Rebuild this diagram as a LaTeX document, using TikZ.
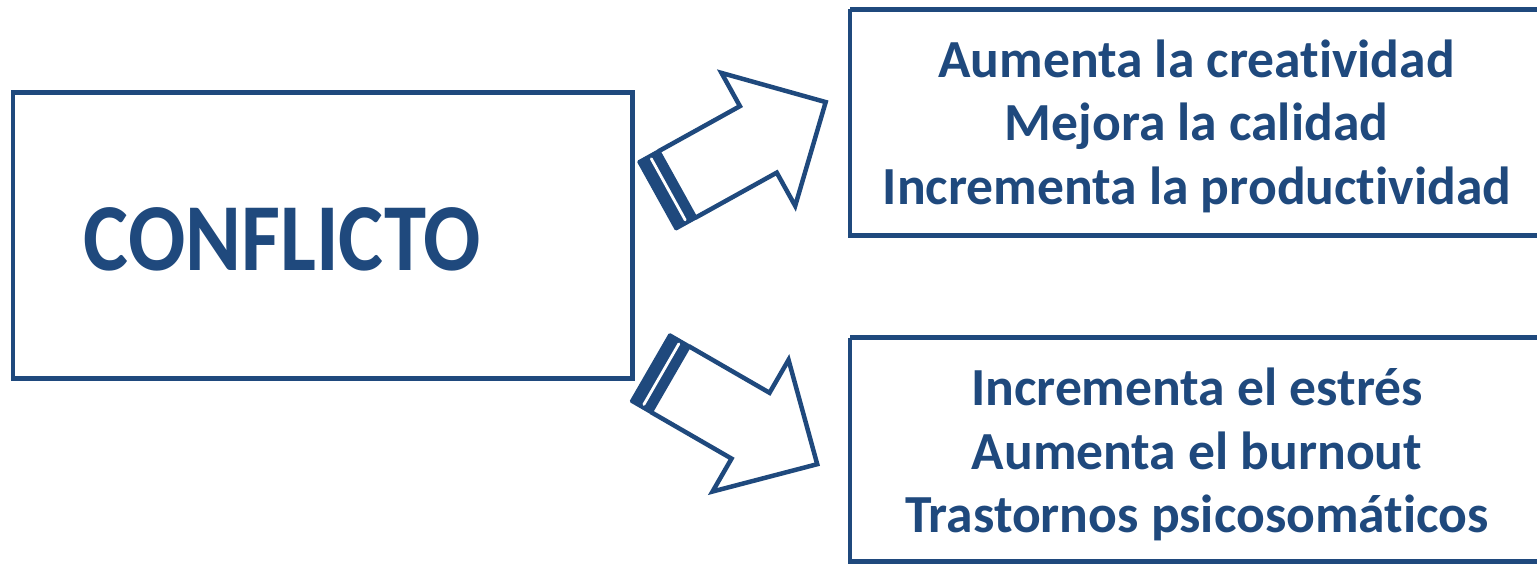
\documentclass[tikz,border=0pt]{standalone}
\usepackage{fontspec}
\setmainfont{Carlito}[Ligatures=NoCommon]
\definecolor{dblue}{HTML}{1F497D}
\tikzset{
  boxline/.style={draw=dblue, line width=4.5pt},
  arrline/.style={draw=dblue, line width=4.5pt, line join=miter, fill=white},
  bigtext/.style={text=dblue, font=\bfseries\fontsize{96}{96}\selectfont, inner sep=0pt, anchor=base},
  linetext/.style={text=dblue, font=\bfseries\fontsize{53.6}{60}\selectfont, inner sep=0pt, anchor=base},
}
\newcommand{\blockarrow}{%
  \draw[arrline] (0,-38) -- (93,-38) -- (93,-76) -- (170,0) -- (93,76) -- (93,38) -- (0,38);
  \fill[dblue, rounded corners=1.5pt] (-24,-40) rectangle (2,40);
  \draw[white, line width=2.8pt, line cap=round] (-10,-35) -- (-10,35);
}
\begin{document}
\begin{tikzpicture}[x=1pt,y=-1pt]
\useasboundingbox (0,0) rectangle (1537,564);
% boxes
\draw[boxline] (13,92.5) rectangle (632.5,378.5);
\draw[boxline] (850,9.5) -- (1545,9.5) (850,9.5) -- (850,235.5) -- (1545,235.5);
\draw[boxline] (850,337.5) -- (1545,337.5) (850,337.5) -- (850,561.5) -- (1545,561.5);
% text
\node[bigtext] (conf) at (282.5,270) {\scalebox{0.884}[1]{CONFLICTO}};
\node[linetext] (p1) at (1196.5,77.7) {Aumenta la creatividad};
\node[linetext] (p2) at (1196.5,141) {Mejora la calidad};
\node[linetext] (p3) at (1197,204.3) {Incrementa la productividad};
\node[linetext] (n1) at (1197,405.7) {Incrementa el estrés};
\node[linetext] (n2) at (1197,469) {Aumenta el burnout};
\node[linetext] (n3) at (1197,532.3) {Trastornos psicosomáticos};
% arrows
\begin{scope}[shift={(677,184.5)}, rotate=29]
\blockarrow
\end{scope}
\begin{scope}[shift={(670,379.2)}, rotate=-30]
\blockarrow
\end{scope}
\end{tikzpicture}
\end{document}
